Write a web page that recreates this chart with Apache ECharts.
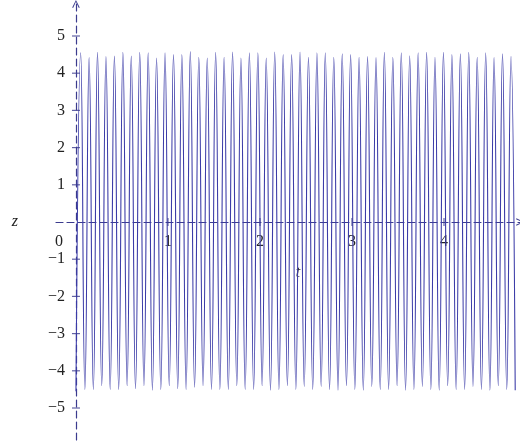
<!DOCTYPE html>
<html>
<head>
<meta charset="utf-8">
<script src="https://cdn.jsdelivr.net/npm/echarts@6/dist/echarts.min.js"></script>
<style>
html,body{margin:0;padding:0;background:#fff;}
#c{width:520px;height:445px;}
</style>
</head>
<body>
<div id="c"></div>
<script>
// Peaks (maxima) of z(t)
var peakT = [0.051,0.143,0.234,0.326,0.418,0.510,0.601,0.693,0.785,0.876,0.968,1.060,1.151,1.243,1.335,1.427,1.518,
  1.610,1.702,1.793,1.885,1.977,2.068,2.160,2.252,2.344,2.435,2.527,2.619,2.710,2.802,2.894,2.985,3.077,
  3.169,3.261,3.352,3.444,3.536,3.627,3.719,3.811,3.902,3.994,4.086,4.178,4.269,4.361,4.453,4.544,4.636,4.728];
var peakZ = [4.55,4.42,4.56,4.45,4.46,4.56,4.46,4.56,4.55,4.41,4.55,4.50,4.50,4.58,4.43,4.41,4.56,
  4.43,4.57,4.41,4.55,4.55,4.41,4.57,4.50,4.50,4.57,4.43,4.55,4.55,4.43,4.52,4.50,4.43,
  4.45,4.42,4.56,4.43,4.55,4.47,4.55,4.56,4.43,4.56,4.50,4.52,4.56,4.43,4.55,4.42,4.52,4.45];
// Troughs (minima) of z(t)
var troughT = [0.000,0.097,0.189,0.280,0.372,0.464,0.556,0.647,0.739,0.831,0.922,1.014,1.106,1.197,1.289,1.381,1.473,
  1.564,1.656,1.748,1.839,1.931,2.023,2.114,2.206,2.298,2.390,2.481,2.573,2.665,2.756,2.848,2.940,3.031,
  3.123,3.215,3.307,3.398,3.490,3.582,3.673,3.765,3.857,3.948,4.040,4.132,4.224,4.315,4.407,4.499,4.590,4.682,4.774];
var troughZ = [-4.55,-4.50,-4.50,-4.40,-4.50,-4.50,-4.40,-4.48,-4.40,-4.52,-4.50,-4.40,-4.48,-4.50,-4.44,-4.40,-4.50,
  -4.50,-4.50,-4.40,-4.50,-4.50,-4.40,-4.52,-4.50,-4.40,-4.50,
  -4.42,-4.50,-4.42,-4.50,-4.52,-4.40,-4.50,-4.52,-4.42,-4.50,-4.50,-4.40,-4.52,-4.50,-4.42,-4.50,-4.52,-4.40,
  -4.50,-4.50,-4.42,-4.50,-4.52,-4.40,-4.50,-4.52];
var xTicks = [0,1,2,3,4];
var yTicks = [-5,-4,-3,-2,-1,1,2,3,4,5];

var pts = [];
for (var i = 0; i < troughT.length; i++) {
  pts.push([troughT[i], troughZ[i]]);
  if (i < peakT.length) pts.push([peakT[i], peakZ[i]]);
}
var xTickPts = xTicks.filter(function(v){return v!==0;}).map(function(v){return [v,0];});
var yTickPts = yTicks.map(function(v){return [0,v];});

var axisCol = '#3b3b8e';
var arrow = 'path://M0,10 L5,0 L10,10 L8.8,10.6 L5,2.4 L1.2,10.6 Z';
function fmt(v){ return v < 0 ? '\u2212' + (-v) : String(v); }
var font = 'Liberation Serif, DejaVu Serif, serif';

var G = {left: 56, right: 0, top: 4, bottom: 5};
var W = 520 - G.left - G.right, H = 445 - G.top - G.bottom;
var xMin = -0.217, xMax = 4.826, yMin = -5.86, yMax = 5.86;
// shift axes from the grid edge onto the zero lines
var xOff = -(H * (0 - yMin) / (yMax - yMin));
var yOff = -(W * (0 - xMin) / (xMax - xMin));

var chart = echarts.init(document.getElementById('c'), null, {renderer:'canvas'});
chart.setOption({
  animation: false,
  backgroundColor: '#fff',
  grid: {left: G.left, right: G.right, top: G.top, bottom: G.bottom, containLabel: false, outerBoundsMode: 'none'},
  xAxis: {
    type: 'value', min: xMin, max: xMax, position: 'bottom', offset: xOff,
    name: 't', nameLocation: 'middle', nameGap: 43,
    nameTextStyle: {fontFamily: font, fontStyle: 'italic', fontSize: 16, color: '#222', padding: [0,0,0,20]},
    axisLine: {onZero: false, symbol: ['none', arrow], symbolSize: [12, 8],
      lineStyle: {color: axisCol, width: 1.2, type: [7,4]}},
    axisTick: {show: false},
    splitLine: {show: false},
    axisLabel: {
      customValues: xTicks, margin: 12,
      fontFamily: font, fontSize: 16, color: '#222',
      formatter: function(v){ return v === 0 ? '{z|0}' : fmt(v); },
      rich: {z: {fontFamily: font, fontSize: 16, color: '#222', padding: [0, 34, 0, 0]}}
    }
  },
  yAxis: {
    type: 'value', min: yMin, max: yMax, position: 'left', offset: yOff,
    name: 'z', nameLocation: 'middle', nameGap: 58, nameRotate: 0,
    nameTextStyle: {fontFamily: font, fontStyle: 'italic', fontSize: 16, color: '#222'},
    axisLine: {onZero: false, symbol: ['none', arrow], symbolSize: [12, 8],
      lineStyle: {color: axisCol, width: 1.2, type: [7,4]}},
    axisTick: {show: false},
    splitLine: {show: false},
    axisLabel: {customValues: yTicks, margin: 11, fontFamily: font, fontSize: 16, color: '#222', formatter: fmt}
  },
  series: [
    {type: 'line', data: pts, showSymbol: false, smooth: 0.5, z: 2,
     lineStyle: {color: '#3c3ca8', width: 1.1}, silent: true},
    {type: 'scatter', data: xTickPts, symbol: 'rect', symbolSize: [1.2, 8], z: 5,
     itemStyle: {color: axisCol}, silent: true},
    {type: 'scatter', data: yTickPts, symbol: 'rect', symbolSize: [8, 1.2], z: 5,
     itemStyle: {color: axisCol}, silent: true}
  ]
});
</script>
</body>
</html>
